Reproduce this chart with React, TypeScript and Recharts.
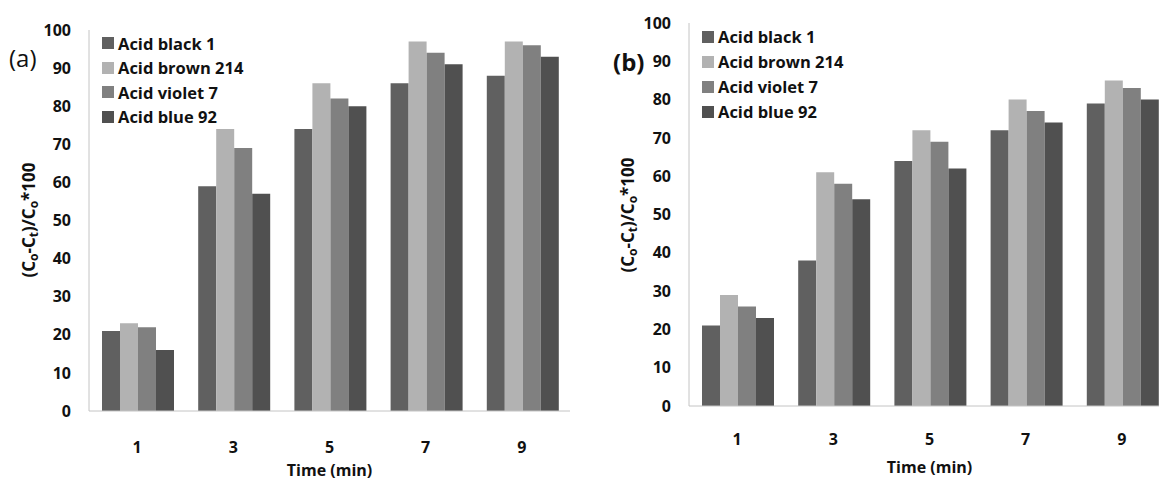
import { Bar, BarChart, XAxis, YAxis } from 'recharts';

const times = ['1', '3', '5', '7', '9'];
const yTicks = [0, 10, 20, 30, 40, 50, 60, 70, 80, 90, 100];

// panel (a)
const blackA = [21, 59, 74, 86, 88];
const brownA = [23, 74, 86, 97, 97];
const violetA = [22, 69, 82, 94, 96];
const blueA = [16, 57, 80, 91, 93];

// panel (b)
const blackB = [21, 38, 64, 72, 79];
const brownB = [29, 61, 72, 80, 85];
const violetB = [26, 58, 69, 77, 83];
const blueB = [23, 54, 62, 74, 80];

const seriesNames = ['Acid black 1', 'Acid brown 214', 'Acid violet 7', 'Acid blue 92'];
const seriesColors = ['#606060', '#b2b2b2', '#808080', '#505050'];

const FONT = '"Open Sans", Lato, sans-serif';

type PanelProps = {
  left: number;
  tag: string;
  tagBold: boolean;
  tagX: number;
  tagY: number;
  legendX: number;
  legendY: number;
  legendStep: number;
  values: number[][];
  plotTop: number;
  zeroY: number;
  yLabelX: number;
  yLabelY: number;
  xTickGap: number;
  xTitleY: number;
};

function YTitle({ cx, cy }: { cx: number; cy: number }) {
  return (
    <text
      x={cx}
      y={cy}
      transform={`rotate(-90, ${cx}, ${cy})`}
      textAnchor="middle"
      dominantBaseline="central"
      fontFamily={FONT}
      fontWeight="bold"
      fontSize={17}
      fill="#111"
    >
      (C<tspan dy={5} fontSize={12}>o</tspan>
      <tspan dy={-5}>-C</tspan>
      <tspan dy={5} fontSize={12}>t</tspan>
      <tspan dy={-5}>)/C</tspan>
      <tspan dy={5} fontSize={12}>o</tspan>
      <tspan dy={-5}>*100</tspan>
    </text>
  );
}

function Panel(p: PanelProps) {
  const data = times.map((t, i) => ({
    time: t,
    s0: p.values[0][i],
    s1: p.values[1][i],
    s2: p.values[2][i],
    s3: p.values[3][i]
  }));

  return (
    <div style={{ position: 'absolute', left: p.left, top: 0, width: 600, height: 482 }}>
      <BarChart
        width={600}
        height={482}
        data={data}
        margin={{ top: p.plotTop, right: 30, left: 0, bottom: 0 }}
        barCategoryGap={13}
        barGap={0}
      >
        <XAxis
          dataKey="time"
          height={482 - p.zeroY}
          axisLine={{ stroke: '#c4c4c4' }}
          tickLine={false}
          tickSize={0}
          tickMargin={p.xTickGap}
          tick={{ fill: '#111', fontFamily: FONT, fontWeight: 'bold', fontSize: 16 }}
          label={{
            content: (props: any) => {
              const vb = props.viewBox || {};
              return (
                <text
                  x={vb.x + vb.width / 2}
                  y={p.xTitleY}
                  textAnchor="middle"
                  dominantBaseline="central"
                  fontFamily={FONT}
                  fontWeight="bold"
                  fontSize={16}
                  fill="#111"
                >
                  Time (min)
                </text>
              );
            }
          }}
        />
        <YAxis
          width={89}
          domain={[0, 100]}
          ticks={yTicks}
          interval={0}
          axisLine={{ stroke: '#c4c4c4' }}
          tickLine={false}
          tickSize={0}
          tickMargin={18}
          tick={{ fill: '#111', fontFamily: FONT, fontWeight: 'bold', fontSize: 16 }}
          label={{ content: () => <YTitle cx={p.yLabelX} cy={p.yLabelY} /> }}
        />
        {seriesNames.map((name, i) => (
          <Bar
            key={name}
            dataKey={`s${i}`}
            name={name}
            fill={seriesColors[i]}
            isAnimationActive={false}
          />
        ))}
      </BarChart>
      <div
        style={{
          position: 'absolute',
          left: p.tagX,
          top: p.tagY,
          transform: 'translateY(-50%)',
          fontFamily: FONT,
          fontWeight: p.tagBold ? 'bold' : 'normal',
          fontSize: 24,
          color: '#111',
          lineHeight: 1
        }}
      >
        {p.tag}
      </div>
      <div style={{ position: 'absolute', left: p.legendX, top: p.legendY }}>
        {seriesNames.map((name, i) => (
          <div
            key={name}
            style={{
              display: 'flex',
              alignItems: 'center',
              height: p.legendStep,
              fontFamily: FONT,
              fontWeight: 'bold',
              fontSize: 16.5,
              color: '#111',
              whiteSpace: 'nowrap'
            }}
          >
            <span style={{ width: 12, height: 12, background: seriesColors[i], marginRight: 4 }} />
            {name}
          </div>
        ))}
      </div>
    </div>
  );
}

export default function App() {
  return (
    <div
      style={{
        position: 'absolute',
        left: 0,
        top: 0,
        width: 1159,
        height: 482,
        overflow: 'hidden',
        background: '#fff'
      }}
    >
      <Panel
        left={0}
        tag="(a)"
        tagBold={false}
        tagX={9}
        tagY={58}
        legendX={102}
        legendY={31}
        legendStep={24.5}
        values={[blackA, brownA, violetA, blueA]}
        plotTop={30}
        zeroY={411}
        yLabelX={28}
        yLabelY={220}
        xTickGap={31}
        xTitleY={470}
      />
      <Panel
        left={600}
        tag="(b)"
        tagBold={true}
        tagX={13}
        tagY={62}
        legendX={102}
        legendY={24}
        legendStep={25}
        values={[blackB, brownB, violetB, blueB]}
        plotTop={23}
        zeroY={406}
        yLabelX={27}
        yLabelY={215}
        xTickGap={28}
        xTitleY={467}
      />
    </div>
  );
}
